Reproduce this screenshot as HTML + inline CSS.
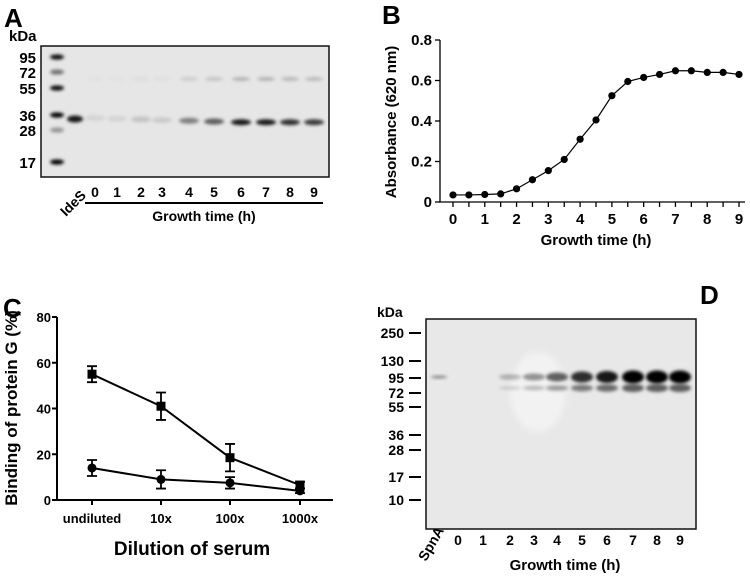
<!DOCTYPE html>
<html><head><meta charset="utf-8"><style>
html,body{margin:0;padding:0;background:#fff;}
svg{display:block;font-family:"Liberation Sans",Arial,sans-serif;font-weight:bold;}
</style></head><body>
<svg id="fig" width="750" height="577" viewBox="0 0 750 577">
<defs>
<filter id="bl" x="-50%" y="-100%" width="200%" height="300%"><feGaussianBlur stdDeviation="1.6"/></filter>
<filter id="bl2" x="-50%" y="-100%" width="200%" height="300%"><feGaussianBlur stdDeviation="3"/></filter>
</defs>
<!-- Panel A -->
<g>
<text x="4" y="27" font-size="26">A</text>
<text x="9" y="41" font-size="15">kDa</text>
<rect x="41" y="46" width="288" height="131" fill="#e6e6e6" stroke="#111" stroke-width="1.5"/>
<g id="blotA"></g>
<g font-size="15" text-anchor="end">
<text x="36" y="63">95</text><text x="36" y="78">72</text><text x="36" y="94">55</text>
<text x="36" y="121">36</text><text x="36" y="136">28</text><text x="36" y="168">17</text>
</g>
<g id="lanesA" font-size="14" text-anchor="middle"></g>
<text transform="translate(66,217) rotate(-45)" font-size="14">IdeS</text>
<line x1="85" y1="203" x2="323" y2="203" stroke="#000" stroke-width="2"/>
<text x="204" y="221" font-size="14" text-anchor="middle">Growth time (h)</text>
</g>
<!-- Panel B -->
<g id="panelB">
<text x="382" y="24" font-size="26">B</text>
<text transform="translate(396,122) rotate(-90)" font-size="15" text-anchor="middle">Absorbance (620 nm)</text>
<text x="596" y="245" font-size="15" text-anchor="middle">Growth time (h)</text>
</g>
<!-- Panel C -->
<g id="panelC">
<text x="3" y="317" font-size="26">C</text>
<text transform="translate(17,408) rotate(-90)" font-size="17" text-anchor="middle">Binding of protein G (%)</text>
<text x="192" y="555" font-size="19" text-anchor="middle">Dilution of serum</text>
</g>
<!-- Panel D -->
<g>
<text x="700" y="304" font-size="26">D</text>
<text x="377" y="317" font-size="14">kDa</text>
<rect x="426" y="319" width="270" height="210" fill="#e8e8e8" stroke="#111" stroke-width="1.5"/>
<g id="blotD"></g>
<g id="markD" font-size="14" text-anchor="end"></g>
<g id="lanesD" font-size="14" text-anchor="middle"></g>
<text transform="translate(426,562) rotate(-60)" font-size="14">SpnA</text>
<text x="565" y="570" font-size="15" text-anchor="middle">Growth time (h)</text>
</g>
</svg>
<script>
const NS="http://www.w3.org/2000/svg";
function mk(parent,tag,attrs){const e=document.createElementNS(NS,tag);for(const k in attrs)e.setAttribute(k,attrs[k]);parent.appendChild(e);return e;}

// ---- Panel B data
const growthTimes=[0,0.5,1,1.5,2,2.5,3,3.5,4,4.5,5,5.5,6,6.5,7,7.5,8,8.5,9];
const absorbance=[0.035,0.035,0.037,0.04,0.065,0.11,0.155,0.21,0.31,0.405,0.525,0.595,0.615,0.63,0.648,0.648,0.64,0.64,0.63];
const bYTicks=[0,0.2,0.4,0.6,0.8];
const bYTickLabels=["0","0.2","0.4","0.6","0.8"];
const bXTicks=[0,1,2,3,4,5,6,7,8,9];

// ---- Panel C data
const dilutions=["undiluted","10x","100x","1000x"];
const squareMeans=[55,41,18.5,6.5];
const squareErr=[3.5,6,6,1.5];
const circleMeans=[14,9,7.5,4];
const circleErr=[3.5,4,2.5,1];
const cYTicks=[0,20,40,60,80];

// ---- Blot data
const laneLabelsA=["0","1","2","3","4","5","6","7","8","9"];
const bandA=[0.08,0.08,0.15,0.12,0.45,0.6,0.9,0.9,0.8,0.75];
const laneLabelsD=["0","1","2","3","4","5","6","7","8","9"];
const bandD=[0,0,0.25,0.4,0.6,0.8,0.9,1,1,1];
const markersD=["250","130","95","72","55","36","28","17","10"];
const markersDy=[333,361,378,393,407,435,450,477,500];

// Panel B
(function(){
 const g=document.getElementById('panelB');
 const x=t=>453+t*(739-453)/9, y=v=>202-v*202.5;
 const ax=mk(g,'path',{d:`M440,40 V202 H745`,fill:'none',stroke:'#000','stroke-width':1.3});
 
 bYTicks.forEach((v,i)=>{mk(g,'line',{x1:435,x2:440,y1:y(v),y2:y(v),stroke:'#000','stroke-width':1.3});
  const t=mk(g,'text',{x:432,y:y(v)+5,'font-size':15,'text-anchor':'end'});t.textContent=bYTickLabels[i];
  });
 growthTimes.forEach(t=>mk(g,'line',{x1:x(t),x2:x(t),y1:202,y2:207,stroke:'#000','stroke-width':1.3}));
 bXTicks.forEach(t=>{const e=mk(g,'text',{x:x(t),y:224,'font-size':15,'text-anchor':'middle'});e.textContent=t;
  });
 const l=mk(g,'polyline',{points:growthTimes.map((t,i)=>x(t)+','+y(absorbance[i])).join(' '),fill:'none',stroke:'#000','stroke-width':1.2});
 
 growthTimes.forEach((t,i)=>{const c=mk(g,'circle',{cx:x(t),cy:y(absorbance[i]),r:3.6,fill:'#000'});
  });
})();

// Panel C
(function(){
 const g=document.getElementById('panelC');
 const xs=[92,161,230,300];
 const y=v=>500-v*183/80;
 const ax=mk(g,'path',{d:`M57,317 V500 H333`,fill:'none',stroke:'#000','stroke-width':2});
 
 cYTicks.forEach(v=>{mk(g,'line',{x1:52,x2:57,y1:y(v),y2:y(v),stroke:'#000','stroke-width':2});
  const t=mk(g,'text',{x:51,y:y(v)+5,'font-size':13,'text-anchor':'end'});t.textContent=v;
  });
 dilutions.forEach((d,i)=>{mk(g,'line',{x1:xs[i],x2:xs[i],y1:500,y2:505,stroke:'#000','stroke-width':2});
  const t=mk(g,'text',{x:xs[i],y:523,'font-size':13,'text-anchor':'middle'});t.textContent=d;
  });
 [[squareMeans,squareErr,'square'],[circleMeans,circleErr,'circle']].forEach(([m,e,s])=>{
  const l=mk(g,'polyline',{points:m.map((v,i)=>xs[i]+','+y(v)).join(' '),fill:'none',stroke:'#000','stroke-width':2});
  
  m.forEach((v,i)=>{const eb=mk(g,'path',{d:`M${xs[i]},${y(v+e[i])}V${y(v-e[i])}M${xs[i]-5},${y(v+e[i])}h10M${xs[i]-5},${y(v-e[i])}h10`,stroke:'#000','stroke-width':1.8,fill:'none'});
   
   let p;
   if(s==='square')p=mk(g,'rect',{x:xs[i]-4.5,y:y(v)-4.5,width:9,height:9,fill:'#000'});
   else p=mk(g,'circle',{cx:xs[i],cy:y(v),r:4.5,fill:'#000'});
   });
 });
})();

// Blot A
(function(){
 const g=document.getElementById('blotA');
 [[57,0.95],[72,0.5],[88,0.95],[115,1],[130,0.35],[162,1]].forEach(([yy,a])=>{
  const e=mk(g,'ellipse',{cx:57,cy:yy,rx:7,ry:2.6,fill:'#000','fill-opacity':a,filter:'url(#bl)'});
  });
 const ides=mk(g,'ellipse',{cx:75,cy:119,rx:8,ry:3.5,fill:'#000','fill-opacity':0.9,filter:'url(#bl)'});
 
 const lx=[95,117,141,162,189,214,241,266,290,314];
 const lanes=document.getElementById('lanesA');
 laneLabelsA.forEach((lab,i)=>{
  const b=mk(g,'ellipse',{cx:lx[i],cy:118+Math.min(i,6)*0.7,rx:10,ry:3,fill:'#000','fill-opacity':bandA[i],filter:'url(#bl)'});
  
  const b2=mk(g,'ellipse',{cx:lx[i],cy:79,rx:9,ry:2,fill:'#000','fill-opacity':bandA[i]*0.25,filter:'url(#bl)'});
  
  const t=mk(lanes,'text',{x:lx[i],y:197});t.textContent=lab;
  });
})();

// Blot D
(function(){
 const g=document.getElementById('blotD');
 const sp=mk(g,'ellipse',{cx:439,cy:377,rx:8,ry:1.3,fill:'#000','fill-opacity':0.5,filter:'url(#bl)'});
 
 mk(g,'ellipse',{cx:538,cy:392,rx:28,ry:40,fill:'#f2f2f2',filter:'url(#bl2)'});
 const lx=[458,483,510,534,557,582,607,633,657,680];
 const lanes=document.getElementById('lanesD');
 laneLabelsD.forEach((lab,i)=>{
  const a=bandD[i];
  if(a>0){
   const b=mk(g,'ellipse',{cx:lx[i],cy:377,rx:11,ry:1.5+a*5,fill:'#000','fill-opacity':a,filter:'url(#bl)'});
   
   const b2=mk(g,'ellipse',{cx:lx[i],cy:388,rx:11,ry:1+a*3,fill:'#000','fill-opacity':a*0.6,filter:'url(#bl)'});
   
  }
  const t=mk(lanes,'text',{x:lx[i],y:545});t.textContent=lab;
  });
 const md=document.getElementById('markD');
 markersD.forEach((m,i)=>{const t=mk(md,'text',{x:404,y:markersDy[i]+5});t.textContent=m;
  
  mk(md,'line',{x1:409,x2:421,y1:markersDy[i],y2:markersDy[i],stroke:'#000','stroke-width':2});});
})();
</script>
</body></html>
